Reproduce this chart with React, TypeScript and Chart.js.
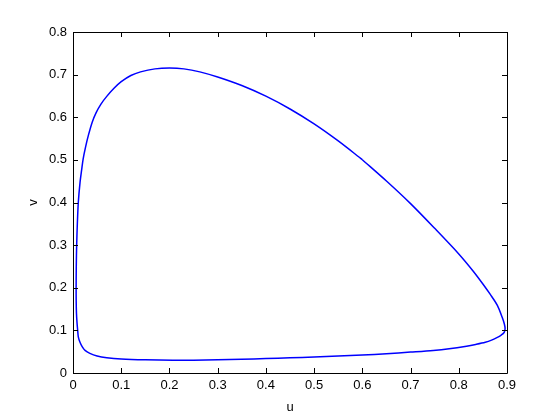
import React, { useEffect, useRef } from "react";
import { Chart, registerables } from "chart.js";

Chart.register(...registerables);

// Limit cycle trajectory (u, v) (closed loop)
const uValues = [
  0.60, 0.65, 0.70, 0.75, 0.80, 0.83, 0.85, 0.865, 0.88, 0.89, 0.8945, 0.896, 0.894, 0.888,
  0.879, 0.868, 0.855, 0.835, 0.816, 0.78, 0.747, 0.70, 0.65, 0.60,
  0.55, 0.50, 0.45, 0.40, 0.35, 0.30, 0.25, 0.207, 0.15, 0.10, 0.07, 0.05, 0.035, 0.025,
  0.019, 0.0145, 0.011, 0.0097, 0.0082, 0.0072, 0.0066, 0.0065, 0.0068, 0.0076, 0.009,
  0.011, 0.0145, 0.018, 0.021, 0.026, 0.032, 0.040, 0.048, 0.058, 0.07, 0.085, 0.10, 0.12,
  0.14, 0.17, 0.20, 0.23, 0.263, 0.30, 0.35, 0.40, 0.45, 0.50, 0.55, 0.60,
];
const vValues = [
  0.5004, 0.4504, 0.3974, 0.3394, 0.2794, 0.2389, 0.2089, 0.1849, 0.1587, 0.1307, 0.115, 0.104, 0.095, 0.089,
  0.083, 0.077, 0.072, 0.067, 0.063, 0.057, 0.053, 0.049, 0.045, 0.042,
  0.040, 0.0375, 0.0355, 0.034, 0.032, 0.031, 0.030, 0.030, 0.031, 0.033, 0.036, 0.040, 0.046, 0.053,
  0.062, 0.072, 0.085, 0.10, 0.12, 0.14, 0.17, 0.20, 0.25, 0.30, 0.35,
  0.40, 0.446, 0.477, 0.502, 0.530, 0.558, 0.589, 0.611, 0.631, 0.649, 0.668, 0.6835, 0.698,
  0.7065, 0.7135, 0.7155, 0.7135, 0.7065, 0.6944, 0.6744, 0.6494, 0.6194, 0.5844, 0.5444, 0.5004,
];

const xTickLabels = ["0", "0.1", "0.2", "0.3", "0.4", "0.5", "0.6", "0.7", "0.8", "0.9"];
const yTickLabels = ["0", "0.1", "0.2", "0.3", "0.4", "0.5", "0.6", "0.7", "0.8"];
const xTitle = "u";
const yTitle = "v";

const FONT = "'Liberation Sans', Arial, Helvetica, sans-serif";

const boxPlugin = {
  id: "matlabBox",
  afterDraw(chart: any) {
    const { ctx, chartArea } = chart;
    const { left, right, top, bottom } = chartArea;
    const xs = chart.scales.x;
    const ys = chart.scales.y;
    const tl = 5;
    ctx.save();
    ctx.strokeStyle = "#000";
    ctx.lineWidth = 1;
    ctx.beginPath();
    ctx.rect(left + 0.5, top + 0.5, right - left, bottom - top);
    xs.ticks.forEach((t: any) => {
      const px = Math.round(xs.getPixelForValue(t.value)) + 0.5;
      ctx.moveTo(px, bottom);
      ctx.lineTo(px, bottom - tl);
      ctx.moveTo(px, top);
      ctx.lineTo(px, top + tl);
    });
    ys.ticks.forEach((t: any) => {
      const py = Math.round(ys.getPixelForValue(t.value)) + 0.5;
      ctx.moveTo(left, py);
      ctx.lineTo(left + tl, py);
      ctx.moveTo(right, py);
      ctx.lineTo(right - tl, py);
    });
    ctx.stroke();
    ctx.restore();
  },
};

export default function App() {
  const ref = useRef<HTMLCanvasElement | null>(null);
  useEffect(() => {
    if (!ref.current) return;
    const data = uValues.map((u, i) => ({ x: u, y: vValues[i] }));
    const chart = new Chart(ref.current, {
      type: "scatter",
      data: {
        datasets: [
          {
            data,
            showLine: true,
            borderColor: "#0000ff",
            borderWidth: 1.5,
            pointRadius: 0,
            tension: 0.3,
            fill: false,
          },
        ],
      },
      options: {
        responsive: false,
        animation: false,
        layout: { padding: { left: 0, top: 32, right: 53, bottom: 0 } },
        plugins: { legend: { display: false }, tooltip: { enabled: false } },
        scales: {
          x: {
            type: "linear",
            min: 0,
            max: 0.9,
            grid: { display: false, drawTicks: false },
            border: { display: false },
            ticks: {
              stepSize: 0.1,
              padding: 5,
              color: "#000",
              font: { family: FONT, size: 13 },
              maxRotation: 0,
              autoSkip: false,
              callback: (_v: any, i: number) => xTickLabels[i],
            },
            title: {
              display: true,
              text: xTitle,
              color: "#000",
              font: { family: FONT, size: 13 },
              padding: { top: 0, bottom: 5 },
            },
            afterFit: (s: any) => {
              s.height = 47;
            },
          },
          y: {
            type: "linear",
            min: 0,
            max: 0.8,
            grid: { display: false, drawTicks: false },
            border: { display: false },
            ticks: {
              stepSize: 0.1,
              padding: 6,
              color: "#000",
              font: { family: FONT, size: 13 },
              autoSkip: false,
              callback: (_v: any, i: number) => yTickLabels[i],
            },
            title: {
              display: true,
              text: yTitle,
              color: "#000",
              font: { family: FONT, size: 13 },
              padding: { top: 26, bottom: 0 },
            },
            afterFit: (s: any) => {
              s.width = 73;
            },
          },
        },
      },
      plugins: [boxPlugin],
    });
    return () => chart.destroy();
  }, []);
  return (
    <div style={{ position: "fixed", left: 0, top: 0, width: 560, height: 420, background: "#fff" }}>
      <canvas ref={ref} width={560} height={420} />
    </div>
  );
}
